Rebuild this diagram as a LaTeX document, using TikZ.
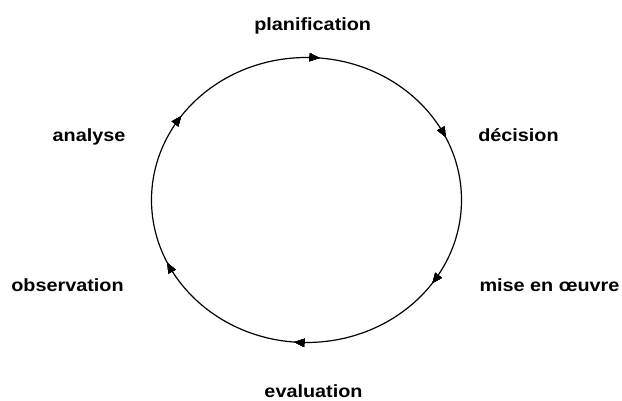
\documentclass[tikz,border=0pt]{standalone}
\usepackage{fontspec}
\setmainfont{Liberation Sans}[FakeStretch=1.12]
\usetikzlibrary{arrows.meta,decorations.markings}
\begin{document}
\begin{tikzpicture}[x=1pt,y=-1pt,
  lbl/.style={anchor=base,inner sep=0pt,font=\fontsize{17.7}{20}\selectfont\bfseries},
  tip/.style={decoration={markings,mark=at position #1 with {\arrow{Triangle[length=10pt,width=8pt]}}},postaction={decorate}}]
\useasboundingbox (0,0) rectangle (622,401);
\fill[white] (0,0) rectangle (622,401);
\node[lbl] (plan) at (312.7,31) {planification};
\node[lbl] (dec) at (518.5,141.7) {décision};
\node[lbl] (mise) at (549.5,291) {mise en œuvre};
\node[lbl] (eval) at (313.5,397) {evaluation};
\node[lbl] (obs) at (67.5,291) {observation};
\node[lbl] (ana) at (89,142) {analyse};
\coordinate (c) at (306.5,200);
\draw[line width=1.2pt,
  tip=0.096, tip=0.263, tip=0.430, tip=0.597, tip=0.764, tip=0.930]
  (c) ellipse [x radius=155, y radius=142.5];
\end{tikzpicture}
\end{document}
